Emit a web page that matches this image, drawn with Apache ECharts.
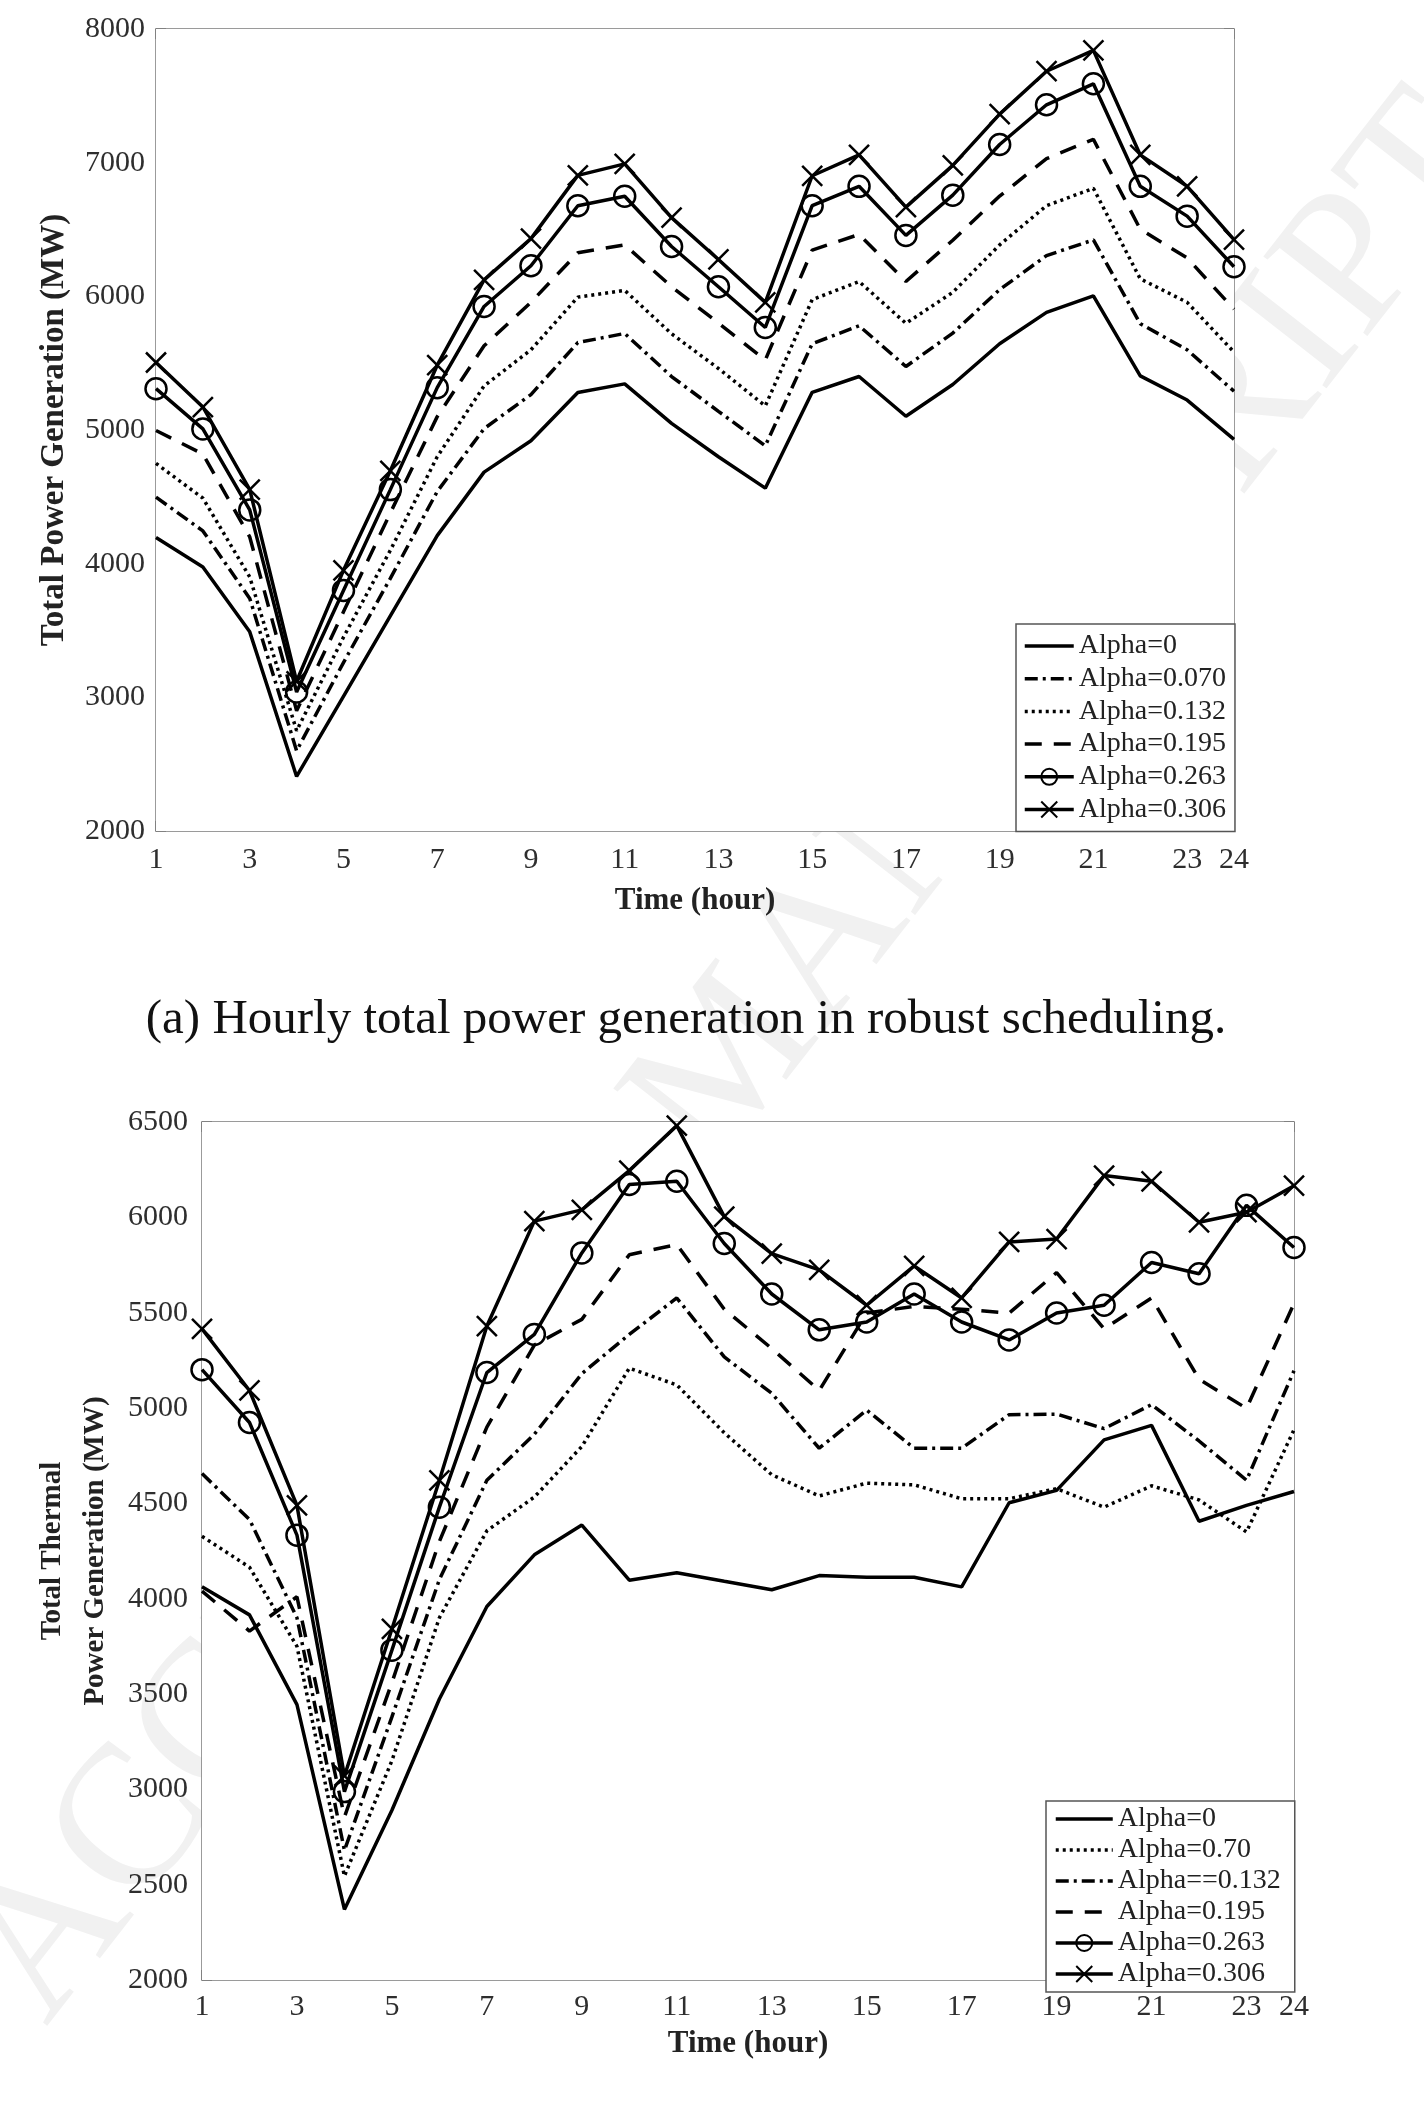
<!DOCTYPE html>
<html>
<head>
<meta charset="utf-8">
<script src="https://cdn.jsdelivr.net/npm/echarts@6/dist/echarts.min.js"></script>
<style>
html,body{margin:0;padding:0;background:#fff;}
#chart{width:1424px;height:2120px;}
</style>
</head>
<body>
<div id="chart"></div>
<script>
// ---- data ----
const hours = ['1','2','3','4','5','6','7','8','9','10','11','12','13','14','15','16','17','18','19','20','21','22','23','24'];

// (a) total power generation
const namesA = ['Alpha=0','Alpha=0.070','Alpha=0.132','Alpha=0.195','Alpha=0.263','Alpha=0.306'];
const a0   = [4195,3975,3490,2408,3008,3609,4210,4685,4920,5280,5345,5050,4800,4565,5282,5400,5103,5340,5645,5880,6003,5405,5224,4930];
const a070 = [4498,4245,3740,2600,3260,3890,4540,5010,5265,5654,5722,5400,5140,4882,5645,5780,5475,5725,6050,6305,6422,5795,5600,5290];
const a132 = [4750,4490,3900,2750,3450,4100,4800,5330,5600,5994,6045,5720,5460,5180,5975,6111,5798,6030,6385,6678,6808,6131,5955,5583];
const a195 = [4996,4820,4200,2900,3640,4380,5100,5630,5955,6326,6385,6072,5800,5524,6346,6463,6111,6420,6750,7030,7175,6502,6287,5904];
const a263 = [5309,5008,4402,3040,3800,4554,5317,5924,6229,6678,6749,6373,6072,5767,6678,6823,6456,6757,7136,7433,7590,6823,6600,6221];
const a306 = [5505,5172,4554,3120,3950,4695,5485,6123,6432,6905,6991,6589,6276,5955,6902,7058,6667,6980,7363,7684,7840,7058,6823,6424];

// (b) total thermal power generation
const namesB = ['Alpha=0','Alpha=0.70','Alpha==0.132','Alpha=0.195','Alpha=0.263','Alpha=0.306'];
const b0   = [4062,3915,3444,2370,2890,3474,3959,4230,4386,4097,4136,4091,4047,4121,4112,4112,4062,4503,4568,4833,4909,4406,4489,4562];
const b070 = [4327,4165,3750,2545,3150,3900,4356,4533,4798,5209,5121,4870,4650,4539,4606,4597,4524,4524,4577,4480,4592,4518,4350,4886];
const b132 = [4656,4415,3900,2680,3380,4100,4621,4862,5180,5386,5577,5268,5077,4789,4989,4789,4789,4965,4968,4892,5018,4827,4621,5195];
const b195 = [4040,3830,4010,2855,3560,4300,4900,5330,5465,5804,5857,5518,5312,5092,5498,5533,5518,5498,5710,5415,5577,5151,4998,5548];
const b263 = [5201,4924,4333,2988,3730,4480,5186,5386,5813,6172,6189,5863,5598,5410,5451,5598,5451,5357,5498,5539,5763,5704,6063,5842];
const b306 = [5415,5092,4489,3070,3841,4621,5430,5980,6039,6245,6481,6004,5810,5724,5539,5745,5577,5871,5886,6219,6189,5974,6027,6166];

const titleA = 'Total Power Generation (MW)';
const titleB = 'Total Thermal\nPower Generation (MW)';
const xTitle = 'Time (hour)';
const caption = '(a) Hourly total power generation in robust scheduling.';
const watermark = 'ACCEPTED MANUSCRIPT';

// ---- styles ----
const FONT = '"Liberation Serif","Times New Roman",serif';
const AX = '#7a7a7a';
const LBL = '#2e2e2e';
const SOLID = 'solid', DOT = [3,4], DASHDOT = [13,5,3,5], DASH = [17,12];
const CROSS = 'path://M0,0L20,20M20,0L0,20';
const LW = 3.5;

function showTick(i){ return i % 2 === 0 || i === 23; }

function xAxes(grid, margin, gap){
  return [
    {type:'category', gridIndex:grid, data:hours, boundaryGap:false,
     axisLine:{lineStyle:{color:AX,width:1.5}},
     axisTick:{inside:true,length:10,interval:(i)=>showTick(i),lineStyle:{color:AX,width:1.5}},
     axisLabel:{interval:(i)=>showTick(i),margin:margin,color:LBL,fontFamily:FONT,fontSize:30},
     name:xTitle,nameLocation:'middle',nameGap:gap,
     nameTextStyle:{fontFamily:FONT,fontSize:31,fontWeight:'bold',color:'#222'},
     splitLine:{show:false}},
    {type:'category', gridIndex:grid, data:hours, boundaryGap:false, position:'top',
     axisLine:{lineStyle:{color:AX,width:1.5}},
     axisTick:{inside:true,length:10,interval:(i)=>showTick(i),lineStyle:{color:AX,width:1.5}},
     axisLabel:{show:false},splitLine:{show:false}}
  ];
}
function yAxes(grid, min, max, step, name, gap, nameSize, margin, lh){
  return [
    {type:'value', gridIndex:grid, min:min, max:max, interval:step,
     axisLine:{show:true,lineStyle:{color:AX,width:1.5}},
     axisTick:{show:true,inside:true,length:10,lineStyle:{color:AX,width:1.5}},
     axisLabel:{margin:margin,color:LBL,fontFamily:FONT,fontSize:30,formatter:(v)=>String(v)},
     name:name,nameLocation:'middle',nameGap:gap,
     nameTextStyle:{fontFamily:FONT,fontSize:nameSize,fontWeight:'bold',color:'#222',lineHeight:lh},
     splitLine:{show:false}},
    {type:'value', gridIndex:grid, min:min, max:max, interval:step, position:'right',
     axisLine:{show:true,lineStyle:{color:AX,width:1.5}},
     axisTick:{show:true,inside:true,length:10,lineStyle:{color:AX,width:1.5}},
     axisLabel:{show:false},splitLine:{show:false}}
  ];
}
function mk(name, data, xi, yi, dash, marker){
  const s = {name:name, type:'line', xAxisIndex:xi, yAxisIndex:yi, data:data,
    lineStyle:{color:'#000',width:LW,type:dash}, itemStyle:{color:'#000'},
    symbol:'none', animation:false, z:3};
  if (marker === 'o'){
    s.symbol = 'circle'; s.symbolSize = 21; s.showSymbol = true;
    s.itemStyle = {color:'rgba(0,0,0,0)', borderColor:'#000', borderWidth:2.5};
  } else if (marker === 'x'){
    s.symbol = CROSS; s.symbolSize = 20; s.showSymbol = true;
    s.itemStyle = {color:'#000', borderColor:'#000', borderWidth:2.5};
  }
  return s;
}
function legendItems(names){
  return names.map((n, i) => i < 4
    ? {name:n, itemStyle:{color:'rgba(0,0,0,0)', borderColor:'rgba(0,0,0,0)', borderWidth:0}}
    : {name:n});
}

const xs = xAxes(0, 14, 54).concat(xAxes(1, 12, 48));
const ys = yAxes(0, 2000, 8000, 1000, titleA, 64, 33, 11, 40).concat(yAxes(1, 2000, 6500, 500, titleB, 69, 29, 14, 43));

const option = {
  backgroundColor:'#fff',
  animation:false,
  grid:[
    {left:156, top:29, width:1078, height:802, show:true, backgroundColor:'#fff', borderWidth:0, z:2},
    {left:202, top:1122, width:1092, height:858, show:true, backgroundColor:'#fff', borderWidth:0, z:2}
  ],
  xAxis: xs,
  yAxis: ys,
  legend:[
    {data:legendItems(namesA), orient:'vertical', left:1016, top:624, itemWidth:49, itemHeight:20, itemGap:4.7,
     padding:[8,9,8,7], borderColor:'#555', borderWidth:1.5, backgroundColor:'#fff',
     lineStyle:{width:LW},
     textStyle:{fontFamily:FONT,fontSize:28,lineHeight:28,color:'#222'}, selectedMode:false},
    {data:legendItems(namesB), orient:'vertical', left:1046, top:1801, itemWidth:57, itemHeight:20, itemGap:3,
     padding:[4,14,4,8], borderColor:'#555', borderWidth:1.5, backgroundColor:'#fff',
     lineStyle:{width:LW},
     textStyle:{fontFamily:FONT,fontSize:28,lineHeight:26,color:'#222'}, selectedMode:false}
  ],
  graphic:[
    {type:'text', x:735, y:1060, rotation:52*Math.PI/180, z:-10, zlevel:0,
     style:{text:watermark, font:'200px '+FONT, fill:'#f1f1f1', textAlign:'center', textVerticalAlign:'middle'}},
    {type:'text', x:686, y:1020, z:10,
     style:{text:caption, font:'49px '+FONT, fill:'#111', textAlign:'center', textVerticalAlign:'middle'}}
  ],
  series:[
    mk(namesA[0], a0, 0, 0, SOLID),
    mk(namesA[1], a070, 0, 0, DASHDOT),
    mk(namesA[2], a132, 0, 0, DOT),
    mk(namesA[3], a195, 0, 0, DASH),
    mk(namesA[4], a263, 0, 0, SOLID, 'o'),
    mk(namesA[5], a306, 0, 0, SOLID, 'x'),
    mk(namesB[0], b0, 2, 2, SOLID),
    mk(namesB[1], b070, 2, 2, DOT),
    mk(namesB[2], b132, 2, 2, DASHDOT),
    mk(namesB[3], b195, 2, 2, DASH),
    mk(namesB[4], b263, 2, 2, SOLID, 'o'),
    mk(namesB[5], b306, 2, 2, SOLID, 'x')
  ]
};
const chart = echarts.init(document.getElementById('chart'), null, {renderer:'canvas'});
chart.setOption(option);
</script>
</body>
</html>
